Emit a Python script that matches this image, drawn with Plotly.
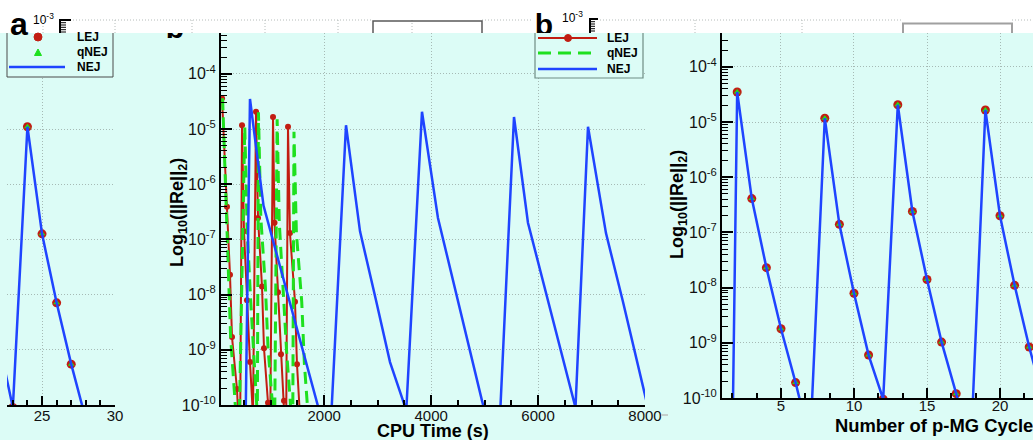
import plotly.graph_objects as go

W, H = 1033, 440
CYAN = "#dcfcf6"
RED = "#c21d12"
GREEN = "#1ee01e"
BLUE = "#1f44ff"
GRID = "#a6bab5"
FONT = "Liberation Sans"

# ---------------- panel (a): end of the cycle history ----------------
a_cycle = [22, 23, 24, 25, 26, 27, 28]
a_resid = [1.6e-9, 9e-11, 1.1e-5, 1.26e-7, 7.1e-9, 5.5e-10, 5.5e-11]

# ---------------- panel (b): residual against CPU time ----------------
lej_time = [89, 182, 238, 276, 369, 425,
            463, 500, 556, 612, 668,
            725, 762, 837, 874, 949, 986,
            1043, 1071, 1136, 1192, 1248, 1286,
            1323, 1360, 1454, 1491, 1547]
lej_resid = [3.6e-5, 3.9e-7, 2.3e-8, 1.7e-9, 1.95e-10, 1.3e-11,
             1.17e-5, 1.4e-7, 7.9e-9, 6.0e-10, 6.3e-11,
             2.05e-5, 2.45e-7, 1.4e-8, 1.07e-9, 1.1e-10, 1.6e-11,
             1.65e-5, 2.0e-7, 1.1e-8, 8.3e-10, 1.2e-10, 1.6e-11,
             1.1e-5, 1.3e-7, 7.4e-9, 5.5e-10, 6.3e-11]

qnej_time = [100, 160, 210, 250, 320, 400,
             515, 560, 625, 690, 750,
             770, 815, 900, 950, 1030, 1070,
             1120, 1160, 1235, 1300, 1365, 1410,
             1435, 1480, 1580, 1630, 1700]
qnej_resid = [3.6e-5, 3.9e-7, 2.3e-8, 1.7e-9, 1.95e-10, 1.3e-11,
              1.1e-5, 1.4e-7, 7.9e-9, 6.0e-10, 6.3e-11,
              2.0e-5, 2.45e-7, 1.4e-8, 1.07e-9, 1.1e-10, 1.6e-11,
              1.5e-5, 2.0e-7, 1.1e-8, 8.3e-10, 1.2e-10, 1.6e-11,
              8.9e-6, 1.3e-7, 7.4e-9, 5.5e-10, 6.3e-11]

nej_time = [520, 612, 865, 1216, 1527, 1796, 2101,
            2408, 2670, 2969, 3231, 3535,
            3829, 4128, 4439, 4717, 4951, 5250,
            5550, 5811, 6148, 6447, 6700,
            6934, 7270, 7588, 7869, 8093]
nej_resid = [1e-11, 3.5e-5, 4.1e-7, 2.3e-8, 1.8e-9, 1.95e-10, 1.6e-11,
             1.17e-5, 1.4e-7, 7.9e-9, 6.0e-10, 8e-11,
             2.05e-5, 2.45e-7, 1.4e-8, 1.03e-9, 1.2e-10, 1e-11,
             1.65e-5, 2.0e-7, 1.1e-8, 8.3e-10, 9e-11,
             1.1e-5, 1.3e-7, 7.4e-9, 5.6e-10, 6.3e-11]

# ---------------- panel (c): residual against p-MG cycle ----------------
mg_cycle = list(range(1, 24))
mg_resid = [1e-24, 3.5e-5, 4.1e-7, 2.3e-8, 1.8e-9, 1.9e-10, 1.6e-11,
            1.17e-5, 1.4e-7, 7.9e-9, 6.0e-10, 9.5e-11,
            2.05e-5, 2.4e-7, 1.4e-8, 1.03e-9, 1.2e-10, 1.2e-11,
            1.65e-5, 2.0e-7, 1.1e-8, 8.4e-10, 9e-11]

# log-axis ticks
decades = list(range(-10, -3))
major_vals = [10.0 ** d for d in decades]
major_text = [f"10<sup>{d}</sup>" for d in decades]
minor_vals = [k * 10.0 ** d for d in decades for k in range(2, 10)]


def px_x(p):
    return p / W


def px_y(p):
    return (H - p) / H


fig = go.Figure()

# panel (a) series
fig.add_trace(go.Scatter(x=a_cycle, y=a_resid, mode="markers", name="LEJ",
                         marker=dict(symbol="circle", size=9, color=RED),
                         xaxis="x", yaxis="y"))
fig.add_trace(go.Scatter(x=a_cycle, y=a_resid, mode="markers", name="qNEJ",
                         marker=dict(symbol="triangle-up", size=6, color=GREEN),
                         xaxis="x", yaxis="y"))
fig.add_trace(go.Scatter(x=a_cycle, y=a_resid, mode="lines", name="NEJ",
                         line=dict(color=BLUE, width=2.5), xaxis="x", yaxis="y"))

# panel (b) series
fig.add_trace(go.Scatter(x=lej_time, y=lej_resid, mode="lines+markers", name="LEJ",
                         line=dict(color=RED, width=2),
                         marker=dict(symbol="circle", size=6, color=RED),
                         xaxis="x2", yaxis="y2"))
fig.add_trace(go.Scatter(x=qnej_time, y=qnej_resid, mode="lines", name="qNEJ",
                         line=dict(color=GREEN, width=3, dash="12px,7px"),
                         xaxis="x2", yaxis="y2"))
fig.add_trace(go.Scatter(x=nej_time, y=nej_resid, mode="lines", name="NEJ",
                         line=dict(color=BLUE, width=2.5), xaxis="x2", yaxis="y2"))

# panel (c) series
fig.add_trace(go.Scatter(x=mg_cycle, y=mg_resid, mode="markers", name="LEJ",
                         marker=dict(symbol="circle", size=9, color=RED),
                         xaxis="x3", yaxis="y3"))
fig.add_trace(go.Scatter(x=mg_cycle, y=mg_resid, mode="markers", name="qNEJ",
                         marker=dict(symbol="triangle-up", size=6, color=GREEN),
                         xaxis="x3", yaxis="y3"))
fig.add_trace(go.Scatter(x=mg_cycle, y=mg_resid, mode="lines", name="NEJ",
                         line=dict(color=BLUE, width=2.5), xaxis="x3", yaxis="y3"))

# panel letters partly hidden behind the header strip / legend box
fig.add_trace(go.Scatter(x=[175, 544], y=[30, 27], mode="text",
                         text=["<b>b</b>", "<b>b</b>"],
                         textfont=dict(family=FONT, size=30, color="black"),
                         xaxis="x4", yaxis="y4", hoverinfo="skip"))

for tr in fig.data:
    tr.showlegend = False

axis_common = dict(showline=True, linecolor="black", linewidth=2,
                   ticks="inside", tickcolor="black", tickwidth=2,
                   zeroline=False, showgrid=True, gridcolor=GRID,
                   griddash="1px,2px", gridwidth=1, automargin=False,
                   fixedrange=True,
                   tickfont=dict(family=FONT, size=15, color="#111"))

log_common = dict(axis_common, type="log", tickvals=major_vals, ticktext=major_text,
                  ticklen=11, tickfont=dict(family=FONT, size=16, color="#111"),
                  minor=dict(tickvals=minor_vals, ticks="inside", ticklen=6,
                             tickwidth=1, tickcolor="black", showgrid=False))

yd_ab = [px_y(405), px_y(33)]
yd_c = [px_y(398), px_y(33)]

fig.update_layout(
    width=W, height=H,
    margin=dict(l=0, r=0, t=0, b=0),
    paper_bgcolor="white",
    plot_bgcolor="rgba(0,0,0,0)",
    showlegend=False,
    xaxis=dict(axis_common, domain=[px_x(7), px_x(115)], range=[22.6, 30],
               tickvals=[25, 30], ticklen=9, anchor="y", ticklabelstandoff=-4,
               minor=dict(dtick=1, tick0=0, ticks="inside", ticklen=5,
                          tickwidth=1.5, tickcolor="black", showgrid=False)),
    yaxis=dict(log_common, domain=yd_ab, range=[-10, -10 + 372 / 55.2],
               showline=False, ticks="", showticklabels=False,
               minor=dict(ticks=""), anchor="x"),
    xaxis2=dict(axis_common, domain=[px_x(221), px_x(645)], range=[70, 8000],
                tick0=0, dtick=2000, ticklen=10, anchor="y2", ticklabelstandoff=-4,
                minor=dict(dtick=500, tick0=0, ticks="inside", ticklen=5,
                           tickwidth=1.5, tickcolor="black", showgrid=False)),
    yaxis2=dict(log_common, domain=yd_ab, range=[-10, -10 + 372 / 55.2], anchor="x2"),
    xaxis3=dict(axis_common, domain=[px_x(722), 1.0], range=[0.96, 22.26],
                tick0=0, dtick=5, ticklen=10, anchor="y3", ticklabelstandoff=-7,
                minor=dict(dtick=5 / 3, tick0=0, ticks="inside", ticklen=5,
                           tickwidth=1.5, tickcolor="black", showgrid=False)),
    yaxis3=dict(log_common, domain=yd_c, range=[-10, -10 + 365 / 55.2], anchor="x3"),
    xaxis4=dict(domain=[0, 1], range=[0, W], visible=False, fixedrange=True, anchor="y4"),
    yaxis4=dict(domain=[0, 1], range=[H, 0], visible=False, fixedrange=True, anchor="x4"),
)

shapes = []


def rect(x0, y0, x1, y1, fill, layer="above"):
    shapes.append(dict(type="rect", xref="x4", yref="y4", x0=x0, y0=y0, x1=x1, y1=y1,
                       fillcolor=fill, line=dict(width=0), layer=layer))


def seg(x0, y0, x1, y1, color, width=1.0, dash="solid"):
    shapes.append(dict(type="line", xref="x4", yref="y4", x0=x0, y0=y0, x1=x1, y1=y1,
                       line=dict(color=color, width=width, dash=dash), layer="above"))


def path(d, color, width=1.0, fill=None):
    s = dict(type="path", xref="x4", yref="y4", path=d,
             line=dict(color=color, width=width), layer="above")
    if fill:
        s["fillcolor"] = fill
    shapes.append(s)


# cyan canvas below the white header strip
shapes.append(dict(type="rect", xref="paper", yref="paper", x0=0, x1=1, y0=0,
                   y1=px_y(33), fillcolor=CYAN, line=dict(width=0), layer="below"))

# header strip: hides the top of the first "b"
rect(158, 0, 205, 33, "white")

# header strip: dotted grid fragments
for x0, x1 in [(70, 373), (482, 532), (600, 903), (1012, 1033)]:
    seg(x0, 20, x1, 20, "#b5bcba", 1, "1px,2px")
for xv in [43, 115, 192, 265, 338, 412, 695, 802]:
    seg(xv, 20, xv, 33, "#b5bcba", 1, "1px,2px")

# header strip: tops of two boxed labels
path("M 373 33 L 373 21 L 482 21 L 482 33", "#5a5a5a", 1.5)
path("M 903 33 L 903 23.5 L 1012 23.5 L 1012 33", "#a0a0a0", 2)

# header strip: axis stubs near 1e-3
for ax, top, major, minor in [(60, 19, 11, 6), (590, 18, 8, 5)]:
    seg(ax, top, ax, 33, "black", 2)
    seg(ax, top + 1, ax + major, top + 1, "black", 2)
    for yy in [top + 3.7, top + 6, top + 8.3, top + 10.7, top + 13]:
        seg(ax, yy, ax + minor, yy, "black", 1)

# legend of panel (a)
rect(7, 33, 113, 77, CYAN)
path("M 7 33 L 7 77 L 113 77 L 113 33", "#4a4a4a", 1)
shapes.append(dict(type="circle", xref="x4", yref="y4", x0=34, y0=33, x1=42, y1=41,
                   fillcolor=RED, line=dict(color=RED, width=1), layer="above"))
path("M 34.5 55.5 L 41.5 55.5 L 38 49 Z", GREEN, 1, GREEN)
seg(9, 67, 65, 67, BLUE, 2.5)

# legend of panel (b)
rect(535, 33, 643, 78, CYAN)
path("M 535 33 L 535 78 L 643 78 L 643 33", "#6f8c84", 1.2)
seg(538, 38, 597, 38, RED, 2)
shapes.append(dict(type="circle", xref="x4", yref="y4", x0=564.5, y0=34.5, x1=571.5,
                   y1=41.5, fillcolor=RED, line=dict(color=RED, width=1), layer="above"))
seg(538, 53, 597, 53, GREEN, 3, "13px,7px")
seg(538, 69, 597, 69, BLUE, 2.5)

# small grey mark right of the time axis
seg(661, 415, 668, 415, "#c5cfcc", 2)

fig.update_layout(shapes=shapes)


def note(x, y, text, size, xanchor="center", yanchor="middle", angle=0):
    fig.add_annotation(x=x, y=y, xref="x4", yref="y4", text=text, showarrow=False,
                       xanchor=xanchor, yanchor=yanchor, textangle=angle,
                       font=dict(family=FONT, size=size, color="black"))


# panel letter and header tick labels
note(8, 24, "<b>a</b>", 32, xanchor="left")
note(56, 19, "10<sup>-3</sup>", 12, xanchor="right")
note(585, 17, "10<sup>-3</sup>", 12, xanchor="right")

# legend texts
for y, t in [(37, "LEJ"), (52, "qNEJ"), (67, "NEJ")]:
    note(75, y, f"<b>{t}</b>", 12, xanchor="left")
for y, t in [(38, "LEJ"), (53, "qNEJ"), (69, "NEJ")]:
    note(605, y, f"<b>{t}</b>", 12, xanchor="left")

# axis titles
note(433, 431, "<b>CPU Time (s)</b>", 18)
note(833, 425, "<b>Number of p-MG Cycles</b>", 18.4, xanchor="left")
note(178, 213, "<b>Log<sub>10</sub>(||Re||<sub>2</sub>)</b>", 18, angle=-90)
note(678, 205, "<b>Log<sub>10</sub>(||Re||<sub>2</sub>)</b>", 18, angle=-90)

fig.write_html("out.html")
